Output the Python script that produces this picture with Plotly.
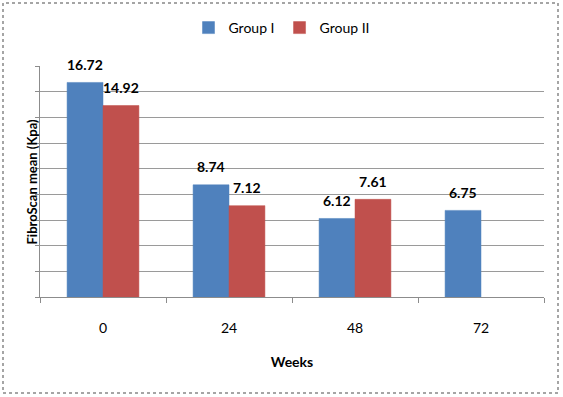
import plotly.graph_objects as go

weeks = ["0", "24", "48", "72"]
group1 = [16.72, 8.74, 6.12, 6.75]
group2 = [14.92, 7.12, 7.61, None]
series_names = ["Group I", "Group II"]
colors = ["#4F81BD", "#C0504D"]

W, H = 563, 397
ml, mr, mt, mb = 40, 19, 66, 100
bargap = 0.43

fig = go.Figure()
for name, vals, col in zip(series_names, [group1, group2], colors):
    fig.add_trace(go.Bar(
        x=weeks, y=vals, name=name,
        marker=dict(color=col, line=dict(color=col, width=0.5)),
    ))

plot_w = W - ml - mr
plot_h = H - mt - mb
cat_px = plot_w / len(weeks)
bar_px = cat_px * (1 - bargap) / 2
annotations = []
for i, vals in enumerate([group1, group2]):
    for j, v in enumerate(vals):
        if v is None:
            continue
        annotations.append(dict(
            x=j, y=v, xref="x", yref="y", text="<b>%.2f</b>" % v,
            showarrow=False, xshift=(i - 0.5) * bar_px, yshift=18,
            yanchor="middle", font=dict(family="Lato", size=14, color="black"),
        ))
annotations.append(dict(
    x=0, y=0.5, xref="paper", yref="paper", text="<b>FibroScan mean (Kpa)</b>",
    textangle=-90, showarrow=False, xanchor="center", yanchor="middle", xshift=-9,
    font=dict(family="Lato", size=13, color="black"),
))

fig.update_layout(
    width=W, height=H,
    margin=dict(l=ml, r=mr, t=mt, b=mb, autoexpand=False),
    paper_bgcolor="white", plot_bgcolor="white",
    barmode="group", bargap=bargap, bargroupgap=0,
    font=dict(family="Lato", size=13, color="black"),
    showlegend=True,
    legend=dict(orientation="h", xref="container", yref="container",
                x=0.5, xanchor="center", y=1 - 28 / H, yanchor="middle",
                font=dict(family="Lato", size=14), itemwidth=30),
    annotations=annotations,
    shapes=[dict(type="rect", xref="paper", yref="paper",
                 x0=-(ml - 3) / plot_w, x1=1 + (mr - 5) / plot_w,
                 y0=-(mb - 4) / plot_h, y1=1 + (mt - 3) / plot_h,
                 line=dict(color="#888888", width=1.5, dash="dot"), layer="above")],
)
fig.update_xaxes(
    type="category", range=[-0.5, len(weeks) - 0.5], automargin=False,
    showgrid=False, showline=True, linecolor="#8c8c8c", linewidth=1,
    ticks="outside", tickson="boundaries", ticklen=5, tickcolor="#8c8c8c",
    ticklabelstandoff=18, tickfont=dict(family="Lato", size=14),
    title=dict(text="<b>Weeks</b>", font=dict(family="Lato", size=14), standoff=22),
)
fig.update_yaxes(
    range=[0, 18], dtick=2, showgrid=True, gridcolor="#9a9a9a", gridwidth=1,
    showline=True, linecolor="#8c8c8c", linewidth=1, zeroline=False, automargin=False,
    ticks="outside", ticklen=4, tickcolor="#8c8c8c", showticklabels=False,
)

fig.write_html("out.html", config={"displayModeBar": False},
               post_script="document.body.style.margin='0';")
